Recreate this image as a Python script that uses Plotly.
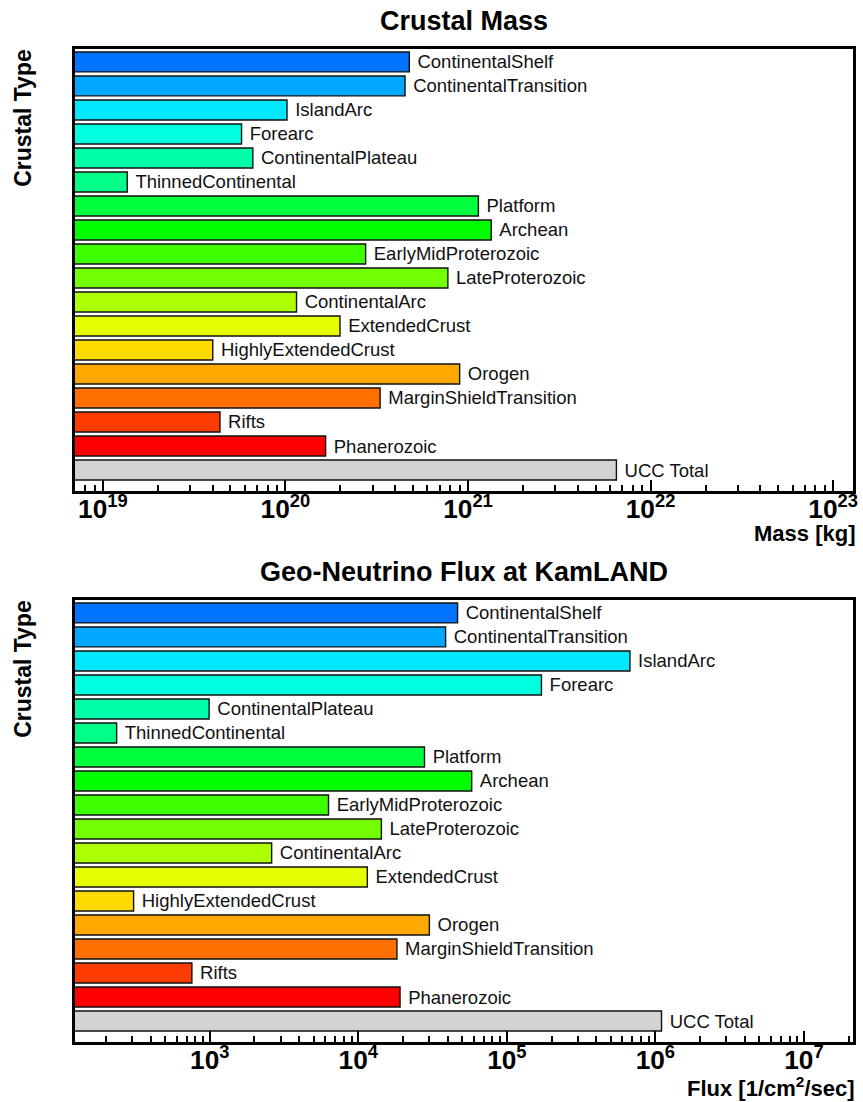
import plotly.graph_objects as go

categories = ["ContinentalShelf", "ContinentalTransition", "IslandArc", "Forearc",
              "ContinentalPlateau", "ThinnedContinental", "Platform", "Archean",
              "EarlyMidProterozoic", "LateProterozoic", "ContinentalArc", "ExtendedCrust",
              "HighlyExtendedCrust", "Orogen", "MarginShieldTransition", "Rifts",
              "Phanerozoic", "UCC Total"]

mass_kg = [4.77e20, 4.52e20, 1.02e20, 5.75e19, 6.63e19, 1.36e19, 1.14e21, 1.34e21,
           2.75e20, 7.76e20, 1.15e20, 1.99e20, 4.0e19, 9.0e20, 3.3e20, 4.38e19,
           1.66e20, 6.5e21]

flux = [4.66e4, 3.87e4, 6.74e5, 1.71e5, 990, 236, 2.79e4, 5.8e4,
        6.3e3, 1.43e4, 2.61e3, 1.15e4, 307, 3.01e4, 1.82e4, 758,
        1.91e4, 1.1e6]

colors = ["#0073FF", "#00A8FF", "#00E8FF", "#00FFDF", "#00FFAA", "#00FF88",
          "#00FF3C", "#00FF00", "#3CFF00", "#74FF00", "#ABFF00", "#E5FF00",
          "#FFDA00", "#FFA800", "#FF7000", "#FF3C00", "#FF0000", "#D3D3D3"]

W, H = 863, 1102
FONT = "Liberation Sans, Arial, Helvetica, sans-serif"
positions = list(range(len(categories)))


def px_x(p):
    return p / W


def px_y(p):
    return 1 - p / H


fig = go.Figure()
for vals, xa, ya in [(mass_kg, "x", "y"), (flux, "x2", "y2")]:
    fig.add_trace(go.Bar(
        x=vals, y=positions, orientation="h",
        marker=dict(color=colors, line=dict(color="#111111", width=1.4)),
        text=categories, texttemplate="\u00a0%{text}",
        textposition="outside", constraintext="none",
        textfont=dict(family=FONT, size=18.5, color="#111111"),
        cliponaxis=False, xaxis=xa, yaxis=ya, showlegend=False, hoverinfo="skip",
    ))

common_x = dict(
    type="log", dtick=1, exponentformat="power", showgrid=False, zeroline=False,
    ticks="inside", ticklen=11, tickwidth=1.5, tickcolor="black",
    minor=dict(ticks="inside", ticklen=6, tickwidth=1.5, tickcolor="black", dtick="D1", showgrid=False),
    showline=True, linewidth=3, linecolor="black", mirror=True,
    tickfont=dict(family=FONT, size=21, color="black", weight="bold"),
    ticklabelstandoff=-6,
)
common_y = dict(
    showticklabels=False, ticks="", showgrid=False, zeroline=False,
    showline=True, linewidth=3, linecolor="black", mirror=True,
    range=[17.875, -0.54],
)

xdom = [px_x(75), px_x(858)]
fig.update_layout(
    width=W, height=H, margin=dict(l=0, r=0, t=0, b=0),
    paper_bgcolor="white", plot_bgcolor="white",
    bargap=0.17,
    xaxis=dict(common_x, domain=xdom, range=[18.845, 23.109], anchor="y"),
    yaxis=dict(common_y, domain=[px_y(491), px_y(49)], anchor="x"),
    xaxis2=dict(common_x, domain=xdom, range=[2.0897, 7.3307], anchor="y2"),
    yaxis2=dict(common_y, domain=[px_y(1042), px_y(600)], anchor="x2"),
)

title_font = dict(family=FONT, size=27, color="black", weight="bold")
axis_font = dict(family=FONT, size=22, color="black", weight="bold")
ytitle_font = dict(family=FONT, size=23, color="black", weight="bold")

anns = [
    dict(text="Crustal Mass", x=px_x(466.5), y=px_y(21), xanchor="center", yanchor="middle", font=title_font),
    dict(text="Geo-Neutrino Flux at KamLAND", x=px_x(466.5), y=px_y(572), xanchor="center", yanchor="middle", font=title_font),
    dict(text="Mass [kg]", x=px_x(862), y=px_y(533), xanchor="right", yanchor="middle", font=axis_font),
    dict(text="Flux [1/cm<sup>2</sup>/sec]", x=px_x(862), y=px_y(1087), xanchor="right", yanchor="middle", font=axis_font),
    dict(text="Crustal Type", x=px_x(23), y=px_y(47), xanchor="center", yanchor="top", textangle=-90, font=ytitle_font),
    dict(text="Crustal Type", x=px_x(23), y=px_y(598), xanchor="center", yanchor="top", textangle=-90, font=ytitle_font),
]
for a in anns:
    a.update(xref="paper", yref="paper", showarrow=False)
fig.update_layout(annotations=anns)

fig.write_html(
    "out.html",
    config={"displayModeBar": False},
    post_script="document.body.style.margin='0';document.body.style.overflow='hidden';",
)
